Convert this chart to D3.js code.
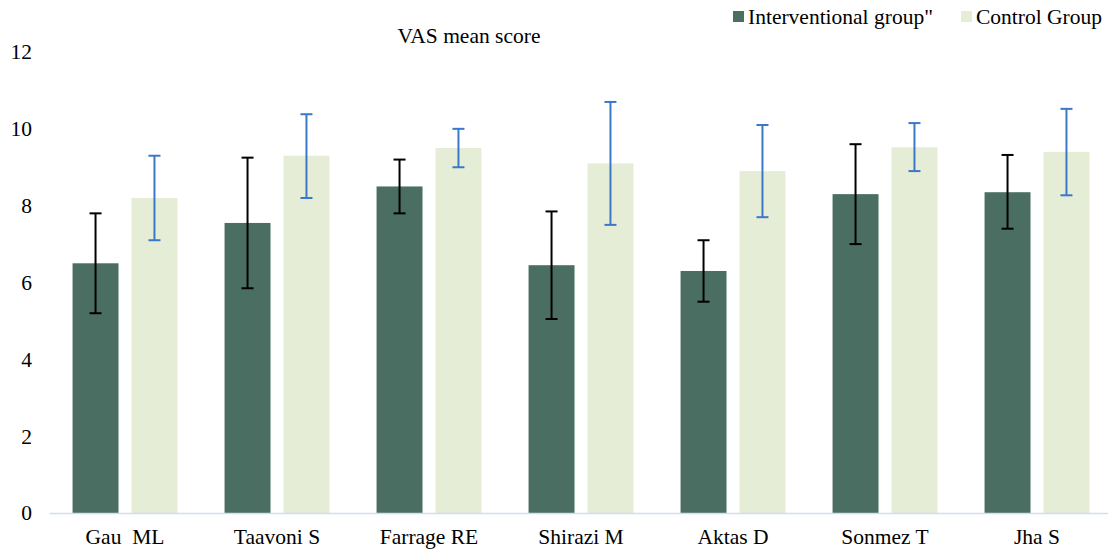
<!DOCTYPE html>
<html>
<head>
<meta charset="utf-8">
<script src="https://cdn.jsdelivr.net/npm/d3@7"></script>
<style>
  body { margin: 0; background: #fff; overflow: hidden; }
  svg { font-family: "Liberation Serif", "Times New Roman", serif; }
</style>
</head>
<body>
<div id="chart"></div>
<script>
// chart data
const studies = ["Gau  ML", "Taavoni S", "Farrage RE", "Shirazi M", "Aktas D", "Sonmez T", "Jha S"];
const seriesNames = ["Interventional group\"", "Control Group"];
const interventional = [6.5, 7.55, 8.5, 6.45, 6.3, 8.3, 8.35];
const interventionalLow = [5.2, 5.85, 7.8, 5.05, 5.5, 7.0, 7.4];
const interventionalHigh = [7.8, 9.25, 9.2, 7.85, 7.1, 9.6, 9.32];
const control = [8.2, 9.3, 9.5, 9.1, 8.9, 9.52, 9.4];
const controlLow = [7.1, 8.2, 9.0, 7.5, 7.7, 8.9, 8.27];
const controlHigh = [9.3, 10.38, 10.0, 10.7, 10.1, 10.15, 10.52];
const yTicks = [0, 2, 4, 6, 8, 10, 12];

const W = 1108, H = 551;
const margin = {top: 52, right: -5, bottom: 38, left: 49};
const width = W - margin.left - margin.right;
const height = H - margin.top - margin.bottom;
const serif = "'Liberation Serif', 'Times New Roman', serif";

const colors = ["#4a6e61", "#e5edd6"];
const errColors = ["#000000", "#3a78c8"];

const svg = d3.select("#chart").append("svg")
    .attr("width", W)
    .attr("height", H);

const g = svg.append("g")
    .attr("transform", "translate(" + margin.left + "," + margin.top + ")");

// scales
const x0 = d3.scaleBand().domain(studies).range([0, width]).paddingInner(0.31).paddingOuter(0.155);
const x1 = d3.scaleBand().domain([0, 1]).range([0, x0.bandwidth()]).paddingInner(0.22);
const y = d3.scaleLinear().domain([0, 12]).range([height, 0]);

// rows of data per study
const rows = studies.map((s, i) => ({
    study: s,
    vals: [
        {k: 0, v: interventional[i], lo: interventionalLow[i], hi: interventionalHigh[i]},
        {k: 1, v: control[i], lo: controlLow[i], hi: controlHigh[i]}
    ]
}));

const groups = g.selectAll(".grp").data(rows).enter().append("g")
    .attr("class", "grp")
    .attr("transform", d => "translate(" + x0(d.study) + ",0)");

groups.selectAll("rect").data(d => d.vals).enter().append("rect")
    .attr("x", d => x1(d.k))
    .attr("y", d => y(d.v))
    .attr("width", x1.bandwidth())
    .attr("height", d => height - y(d.v))
    .attr("fill", d => colors[d.k]);

// error bars
const err = groups.selectAll(".err").data(d => d.vals).enter().append("g")
    .attr("class", "err")
    .attr("stroke", d => errColors[d.k])
    .attr("stroke-width", 2);

err.append("line")
    .attr("x1", d => x1(d.k) + x1.bandwidth() / 2)
    .attr("x2", d => x1(d.k) + x1.bandwidth() / 2)
    .attr("y1", d => y(d.hi))
    .attr("y2", d => y(d.lo));
err.append("line")
    .attr("x1", d => x1(d.k) + x1.bandwidth() / 2 - 6)
    .attr("x2", d => x1(d.k) + x1.bandwidth() / 2 + 6)
    .attr("y1", d => y(d.hi))
    .attr("y2", d => y(d.hi));
err.append("line")
    .attr("x1", d => x1(d.k) + x1.bandwidth() / 2 - 6)
    .attr("x2", d => x1(d.k) + x1.bandwidth() / 2 + 6)
    .attr("y1", d => y(d.lo))
    .attr("y2", d => y(d.lo));

// y axis labels
const yAxis = g.append("g").call(d3.axisLeft(y).tickValues(yTicks).tickSize(0).tickPadding(17));
yAxis.select(".domain").remove();
yAxis.attr("font-family", serif).attr("font-size", 21.5);
yAxis.selectAll("text").attr("fill", "#000");

// x axis
const xAxis = g.append("g")
    .attr("transform", "translate(0," + height + ")")
    .call(d3.axisBottom(x0).tickSize(0).tickPadding(16));
xAxis.select(".domain").attr("stroke", "#d3dded").attr("stroke-width", 1.5);
xAxis.attr("font-family", serif).attr("font-size", 21.5);
xAxis.selectAll("text")
    .style("white-space", "pre")
    .attr("fill", "#000");

// title
svg.append("text")
    .attr("x", 469)
    .attr("y", 43)
    .attr("text-anchor", "middle")
    .style("font-size", "21.5px")
    .text("VAS mean score");

// legend
const legX = [733, 961];
const leg = svg.selectAll(".leg").data(seriesNames).enter().append("g")
    .attr("class", "leg")
    .attr("transform", (d, i) => "translate(" + legX[i] + ",11)");
leg.append("rect")
    .attr("width", 11).attr("height", 11)
    .attr("fill", (d, i) => colors[i]);
leg.append("text")
    .attr("x", 15).attr("y", 13)
    .style("font-size", "21.5px")
    .text(d => d);
</script>
</body>
</html>
